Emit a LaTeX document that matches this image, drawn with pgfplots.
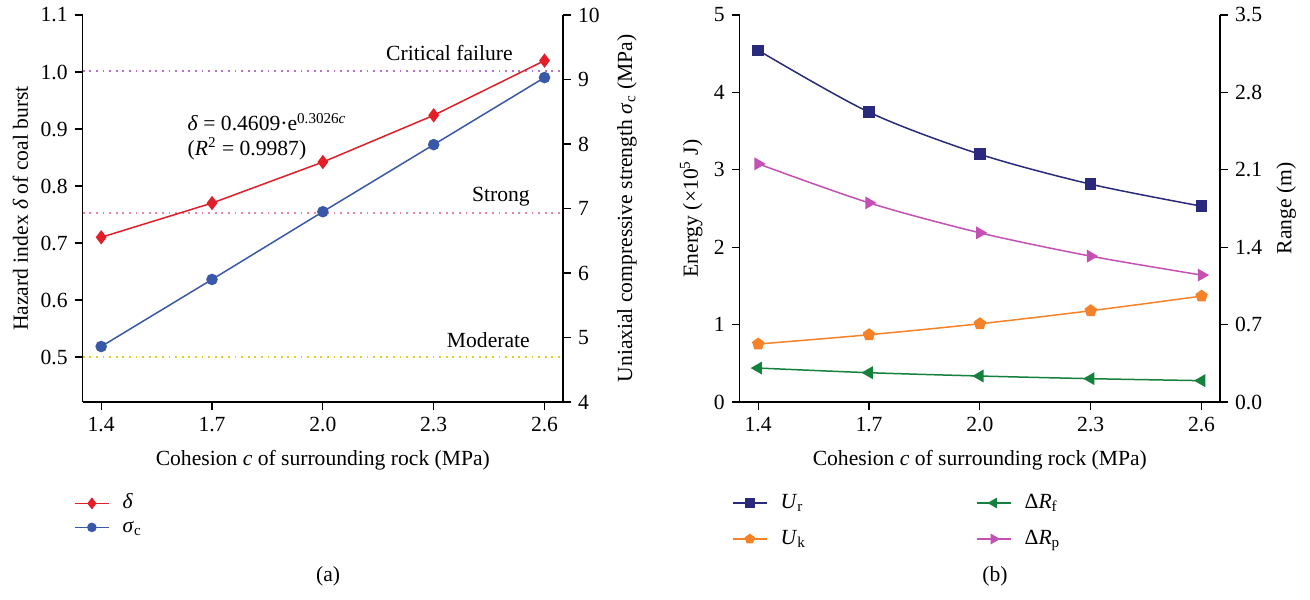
\documentclass[border=0pt]{standalone}
\usepackage{fontspec}
\setmainfont{Liberation Serif}
\usepackage{pgfplots}
\pgfplotsset{compat=1.18}
\definecolor{cred}{HTML}{E41E28}
\definecolor{cblue}{HTML}{3A58A8}
\definecolor{cpurp}{HTML}{B474CC}
\definecolor{cpink}{HTML}{F07EAC}
\definecolor{cyell}{HTML}{E0D020}
\definecolor{cnavy}{HTML}{2A2A7C}
\definecolor{corange}{HTML}{F58228}
\definecolor{cgreen}{HTML}{14823C}
\definecolor{cmag}{HTML}{C450B4}
\begin{document}
\begin{tikzpicture}[font=\fontsize{10.8}{13}\selectfont]
\path[use as bounding box] (0,0) rectangle (655pt,299.5pt);
\pgfplotsset{
  base/.style={
    scale only axis, width=240.15pt, height=193.5pt,
    xmin=1.35, xmax=2.65, anchor=south west,
    tick align=outside, major tick length=4pt,
    axis line style={-, line width=0.6pt},
    every tick/.style={line width=0.6pt, black},
    /pgf/number format/assume math mode=true,
    ticklabel style={font=\fontsize{10.8}{13}\selectfont},
    label style={font=\fontsize{10.8}{13}\selectfont},
    clip=false,
  },
  lg/.style={
    legend cell align=left,
    legend image post style={every mark/.append style={scale=0.8}},
    legend style={draw=none, fill=none, inner sep=0pt, outer sep=0pt,
      nodes={inner sep=1pt, text height=7.5pt, text depth=2.5pt},
      /tikz/every odd column/.append style={column sep=5.5pt}},
  },
  dl/.style={dash pattern=on 0.9pt off 2.4pt, line width=1pt},
}
% ---------------- panel (a) left axis
\begin{axis}[base, at={(41.35pt,98.5pt)},
  axis x line*=bottom, axis y line*=left,
  ymin=0.421, ymax=1.1,
  ytick={0.5,0.6,0.7,0.8,0.9,1.0,1.1},
  yticklabels={0.5,0.6,0.7,0.8,0.9,1.0,1.1},
  xtick={1.4,1.7,2.0,2.3,2.6},
  xticklabels={1.4,1.7,2.0,2.3,2.6},
  xlabel={Cohesion \textit{c} of surrounding rock (MPa)},
  xlabel style={at={(axis description cs:0.5,-0.15)}, anchor=center},
  ylabel={Hazard index \textit{δ} of coal burst},
  ylabel style={at={(axis description cs:-0.13,0.5)}, anchor=center},
]
\addplot[cpurp, dl] coordinates {(1.35,1.002) (2.65,1.002)};
\addplot[cpink, dl] coordinates {(1.35,0.752) (2.65,0.752)};
\addplot[cyell, dl] coordinates {(1.35,0.5) (2.65,0.5)};
\addplot[cred, line width=0.75pt, mark=diamond*, mark size=3pt, mark options={solid}]
  coordinates {(1.4,0.710) (1.7,0.770) (2.0,0.842) (2.3,0.924) (2.6,1.020)};
\node[anchor=east] at (axis cs:2.533,1.033) {Critical failure};
\node[anchor=east] at (axis cs:2.579,0.781) {Strong};
\node[anchor=east] at (axis cs:2.579,0.530) {Moderate};
\node[anchor=west] at (axis cs:1.615,0.912) {\textit{δ} = 0.4609·e\textsuperscript{0.3026\textit{c}}};
\node[anchor=west] at (axis cs:1.615,0.866) {(\textit{R}\textsuperscript{2} = 0.9987)};
\node at (axis description cs:0.511,-0.45) {(a)};
\end{axis}
% ---------------- panel (a) right axis
\begin{axis}[base, lg, at={(41.35pt,98.5pt)},
  axis x line=none, axis y line*=right,
  ymin=4, ymax=10, ytick={4,5,6,7,8,9,10},
  ylabel={Uniaxial compressive strength \textit{σ}\textsubscript{c} (MPa)},
  ylabel style={at={(axis description cs:1.133,0.5)}, anchor=center},
  legend style={at={(axis description cs:-0.018,-0.293)}, anchor=west, row sep=0pt},
]
\addlegendimage{cred, line width=0.75pt, mark=diamond*, mark size=3pt}
\addlegendentry{\textit{δ}}
\addplot[cblue, line width=0.75pt, mark=*, mark size=2.5pt]
  coordinates {(1.4,4.86) (1.7,5.90) (2.0,6.95) (2.3,7.99) (2.6,9.03)};
\addlegendentry{\textit{σ}\textsubscript{c}}
\end{axis}
% ---------------- panel (b) left axis
\begin{axis}[base, at={(369.85pt,98.5pt)},
  axis x line*=bottom, axis y line*=left,
  ymin=0, ymax=5, ytick={0,1,2,3,4,5},
  xtick={1.4,1.7,2.0,2.3,2.6},
  xticklabels={1.4,1.7,2.0,2.3,2.6},
  xlabel={Cohesion \textit{c} of surrounding rock (MPa)},
  xlabel style={at={(axis description cs:0.5,-0.15)}, anchor=center},
  ylabel={Energy (×10\textsuperscript{5} J)},
  ylabel style={at={(axis description cs:-0.101,0.5)}, anchor=center},
]
\addplot[cnavy, line width=0.75pt, smooth, mark=square*, mark size=2.5pt, mark options={solid}]
  coordinates {(1.4,4.544) (1.7,3.744) (2.0,3.201) (2.3,2.814) (2.6,2.530)};
\addplot[corange, line width=0.75pt, smooth, mark=pentagon*, mark size=2.8pt, mark options={solid}]
  coordinates {(1.4,0.749) (1.7,0.869) (2.0,1.011) (2.3,1.179) (2.6,1.368)};
\node at (axis description cs:0.5316,-0.45) {(b)};
\end{axis}
% ---------------- panel (b) right axis
\begin{axis}[base, lg, at={(369.85pt,98.5pt)},
  axis x line=none, axis y line*=right,
  ymin=0, ymax=3.5, ytick={0,0.7,1.4,2.1,2.8,3.5},
  yticklabels={0.0,0.7,1.4,2.1,2.8,3.5},
  ylabel={Range (m)},
  ylabel style={at={(axis description cs:1.138,0.5)}, anchor=center},
  legend columns=2,
  legend style={at={(axis description cs:-0.016,-0.3075)}, anchor=west, row sep=6pt,
    /tikz/every even column/.append style={column sep=84pt}},
]
\addlegendimage{cnavy, line width=0.75pt, mark=square*, mark size=2.5pt}
\addlegendentry{\textit{U}\textsubscript{r}}
\addplot[cgreen, line width=0.75pt, smooth, mark=triangle*, mark size=3pt, mark options={solid, rotate=90}]
  coordinates {(1.4,0.307) (1.7,0.265) (2.0,0.235) (2.3,0.211) (2.6,0.193)};
\addlegendentry{Δ\textit{R}\textsubscript{f}}
\addlegendimage{corange, line width=0.75pt, mark=pentagon*, mark size=2.8pt}
\addlegendentry{\textit{U}\textsubscript{k}}
\addplot[cmag, line width=0.75pt, smooth, mark=triangle*, mark size=3pt, mark options={solid, rotate=-90}]
  coordinates {(1.4,2.154) (1.7,1.801) (2.0,1.530) (2.3,1.319) (2.6,1.148)};
\addlegendentry{Δ\textit{R}\textsubscript{p}}
\end{axis}
\end{tikzpicture}
\end{document}
